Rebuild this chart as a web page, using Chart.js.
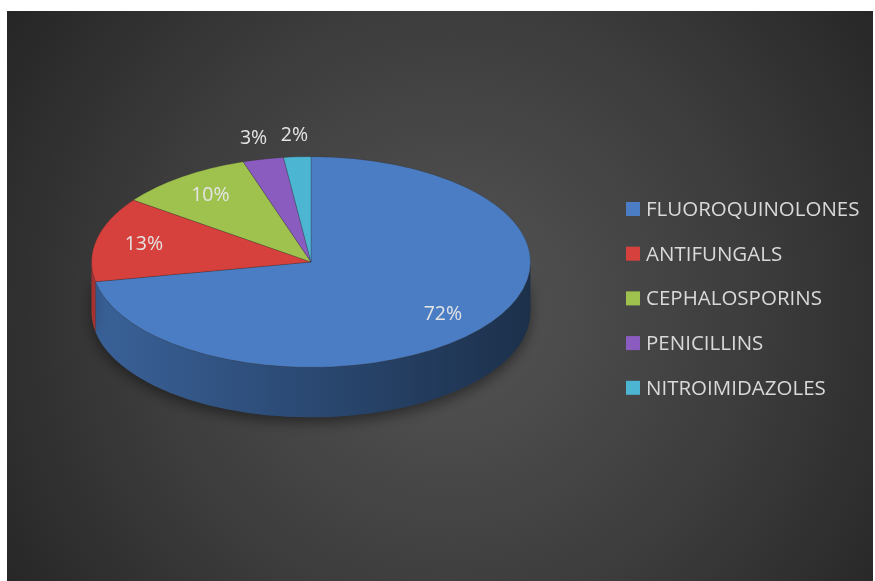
<!DOCTYPE html>
<html lang="en">
<head>
    <meta charset="UTF-8">
    <title>Antibiotic classes pie chart</title>
    <script src="https://cdn.jsdelivr.net/npm/chart.js"></script>
    <style>
        body {
            margin: 0;
            padding: 0;
            background: #ffffff;
        }
        #pie-chart {
            display: block;
        }
    </style>
</head>
<body>
    <canvas id="pie-chart" width="875" height="581"></canvas>

    <script>
        const classNames = ["FLUOROQUINOLONES", "ANTIFUNGALS", "CEPHALOSPORINS", "PENICILLINS", "NITROIMIDAZOLES"];
        const shares = [72, 13, 10, 3, 2];
        const sliceColors = ["#4a7dc4", "#d6403d", "#9fc24f", "#8a5cbf", "#4bb5d2"];

        const tilt = 0.48;    // vertical squash of the pie
        const depth = 50;     // thickness of the 3d side
        const fontFamily = "'Open Sans', 'Noto Sans', sans-serif";

        function shade(hex, f) {
            const n = parseInt(hex.slice(1), 16);
            const r = Math.round(((n >> 16) & 255) * f);
            const g = Math.round(((n >> 8) & 255) * f);
            const b = Math.round((n & 255) * f);
            return `rgb(${r}, ${g}, ${b})`;
        }

        // dark radial background with white margin
        const backgroundPlugin = {
            id: "background",
            beforeDraw(chart) {
                const ctx = chart.ctx;
                ctx.save();
                ctx.fillStyle = "#ffffff";
                ctx.fillRect(0, 0, chart.width, chart.height);
                const grad = ctx.createRadialGradient(450, 310, 0, 450, 310, 560);
                grad.addColorStop(0, "#555555");
                grad.addColorStop(0.55, "#3c3c3c");
                grad.addColorStop(1, "#232323");
                ctx.fillStyle = grad;
                ctx.fillRect(7, 11, 866, 570);
                ctx.restore();
            }
        };

        // squash the pie into an ellipse and draw its side
        const tiltPlugin = {
            id: "tilt",
            beforeDatasetsDraw(chart) {
                const ctx = chart.ctx;
                const meta = chart.getDatasetMeta(0);
                const first = meta.data[0];
                const cx = first.x, cy = first.y, r = first.outerRadius;

                ctx.save();
                meta.data.forEach((arc, i) => {
                    const s = Math.max(arc.startAngle, 0);
                    const e = Math.min(arc.endAngle, Math.PI);
                    if (e <= s) return;
                    const grad = ctx.createLinearGradient(cx - r, 0, cx + r, 0);
                    grad.addColorStop(0, shade(sliceColors[i], 0.78));
                    grad.addColorStop(0.45, shade(sliceColors[i], 0.6));
                    grad.addColorStop(1, shade(sliceColors[i], 0.38));
                    ctx.beginPath();
                    ctx.ellipse(cx, cy, r, r * tilt, 0, s, e);
                    ctx.ellipse(cx, cy + depth, r, r * tilt, 0, e, s, true);
                    ctx.closePath();
                    ctx.shadowColor = "rgba(0, 0, 0, 0.45)";
                    ctx.shadowBlur = 14;
                    ctx.shadowOffsetY = 5;
                    ctx.fillStyle = grad;
                    ctx.fill();
                });
                ctx.restore();

                ctx.save();
                ctx.translate(cx, cy);
                ctx.scale(1, tilt);
                ctx.translate(-cx, -cy);
            },
            afterDatasetsDraw(chart) {
                const ctx = chart.ctx;
                ctx.restore();

                // percentage labels
                const meta = chart.getDatasetMeta(0);
                const first = meta.data[0];
                const cx = first.x, cy = first.y, r = first.outerRadius;
                const total = shares.reduce((a, b) => a + b, 0);
                const spots = meta.data.map((arc, i) => {
                    const mid = (arc.startAngle + arc.endAngle) / 2;
                    const outside = shares[i] / total < 0.05;
                    const rr = outside ? r * 1.2 : r * 0.78;
                    return {
                        x: cx + Math.cos(mid) * rr,
                        y: cy + Math.sin(mid) * rr * tilt,
                        outside: outside,
                        text: shares[i] + "%"
                    };
                });
                // keep the small outside labels from overlapping
                const outs = spots.filter(p => p.outside);
                for (let j = 1; j < outs.length; j++) {
                    const gap = outs[j].x - outs[j - 1].x;
                    if (gap < 40) {
                        const push = (40 - gap) / 2;
                        outs[j - 1].x -= push;
                        outs[j].x += push;
                    }
                }

                ctx.save();
                ctx.font = "19.5px " + fontFamily;
                ctx.fillStyle = "#e4e4e4";
                ctx.textAlign = "center";
                ctx.textBaseline = "middle";
                spots.forEach(p => ctx.fillText(p.text, p.x, p.y));
                ctx.restore();
            }
        };

        // legend on the right
        const legendPlugin = {
            id: "sideLegend",
            afterDraw(chart) {
                const ctx = chart.ctx;
                ctx.save();
                ctx.font = "20.5px " + fontFamily;
                ctx.textBaseline = "middle";
                chart.data.labels.forEach((label, i) => {
                    const y = 209 + i * 44.7;
                    ctx.fillStyle = sliceColors[i];
                    ctx.fillRect(626, y - 7, 14, 14);
                    ctx.fillStyle = "#d9d9d9";
                    ctx.fillText(label, 646, y + 1);
                });
                ctx.restore();
            }
        };

        const ctx = document.getElementById("pie-chart").getContext("2d");
        new Chart(ctx, {
            type: "pie",
            data: {
                labels: classNames,
                datasets: [{
                    data: shares,
                    backgroundColor: sliceColors,
                    borderColor: "rgba(40, 40, 40, 0.35)",
                    borderWidth: 1
                }]
            },
            options: {
                responsive: false,
                animation: false,
                layout: {
                    padding: { left: 91, right: 344, top: 42, bottom: 99 }
                },
                plugins: {
                    legend: { display: false },
                    tooltip: { enabled: false }
                }
            },
            plugins: [backgroundPlugin, tiltPlugin, legendPlugin]
        });
    </script>
</body>
</html>
